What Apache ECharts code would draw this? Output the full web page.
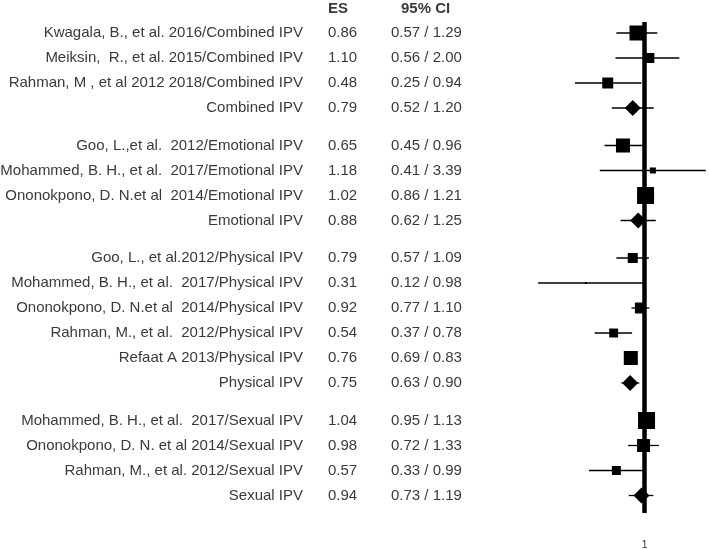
<!DOCTYPE html>
<html><head><meta charset="utf-8">
<script src="https://cdn.jsdelivr.net/npm/echarts@6/dist/echarts.min.js"></script>
<style>html,body{margin:0;padding:0;background:#fff}#c{width:709px;height:550px}</style>
</head><body><div id="c"></div>
<script>
// ---- data ----
const studyLabels = [
  'Kwagala, B., et al. 2016/Combined IPV',
  'Meiksin,  R., et al. 2015/Combined IPV',
  'Rahman, M , et al 2012 2018/Combined IPV',
  'Combined IPV',
  'Goo, L.,et al.  2012/Emotional IPV',
  'Mohammed, B. H., et al.  2017/Emotional IPV',
  'Ononokpono, D. N.et al  2014/Emotional IPV',
  'Emotional IPV',
  'Goo, L., et al.2012/Physical IPV',
  'Mohammed, B. H., et al.  2017/Physical IPV',
  'Ononokpono, D. N.et al  2014/Physical IPV',
  'Rahman, M., et al.  2012/Physical IPV',
  'Refaat A 2013/Physical IPV',
  'Physical IPV',
  'Mohammed, B. H., et al.  2017/Sexual IPV',
  'Ononokpono, D. N. et al 2014/Sexual IPV',
  'Rahman, M., et al. 2012/Sexual IPV',
  'Sexual IPV'
];
const groupIndex = [0,0,0,0, 1,1,1,1, 2,2,2,2,2,2, 3,3,3,3];
const isSummary  = [0,0,0,1, 0,0,0,1, 0,0,0,0,0,1, 0,0,0,1];
const esValues   = [0.86,1.10,0.48,0.79, 0.65,1.18,1.02,0.88, 0.79,0.31,0.92,0.54,0.76,0.75, 1.04,0.98,0.57,0.94];
const ciLower    = [0.57,0.56,0.25,0.52, 0.45,0.41,0.86,0.62, 0.57,0.12,0.77,0.37,0.69,0.63, 0.95,0.72,0.33,0.73];
const ciUpper    = [1.29,2.00,0.94,1.20, 0.96,3.39,1.21,1.25, 1.09,0.98,1.10,0.78,0.83,0.90, 1.13,1.33,0.99,1.19];
const weights    = [11.2,5.0,6.0,null, 9.8,1.8,14.4,null, 5.0,0.2,6.0,4.0,9.8,null, 14.4,8.4,4.0,null];
const headerES = 'ES';
const headerCI = '95% CI';
const refValue = 1;

// ---- layout helpers ----
const GROUP_GAP = 0.5;
const rowPos = studyLabels.map((_, i) => i + groupIndex[i] * GROUP_GAP);
const rows = studyLabels.map((l, i) => [esValues[i], rowPos[i], ciLower[i], ciUpper[i], i]);

const FONT = '"Liberation Sans", Arial, sans-serif';
const TXT = '#3a3a3a';
const FS = 15;
const LABEL_RIGHT = 303, ES_LEFT = 328, CI_LEFT = 391;

const chart = echarts.init(document.getElementById('c'), null, {renderer: 'canvas'});
chart.setOption({
  animation: false,
  grid: {left: 529, right: 0.8, top: 22, bottom: 37},
  xAxis: {
    type: 'log', logBase: 10, min: 0.1, max: 3.4,
    axisLine: {show: false}, axisTick: {show: false}, splitLine: {show: false},
    axisLabel: {
      margin: 26, color: TXT, fontFamily: FONT, fontSize: 11,
      formatter: v => (Math.abs(v - refValue) < 1e-6 ? String(refValue) : '')
    }
  },
  yAxis: {
    type: 'value', inverse: true, min: -0.44, max: 19.2,
    show: false
  },
  graphic: [
    {type: 'text', left: 328, top: 1, style: {text: headerES, font: 'bold 15px ' + FONT, fill: TXT}},
    {type: 'text', left: 401, top: 1, style: {text: headerCI, font: 'bold 15px ' + FONT, fill: TXT}}
  ],
  series: [
    {
      type: 'custom',
      clip: false,
      data: rows,
      renderItem: function (params, api) {
        const i = api.value(4);
        const c = api.coord([api.value(0), api.value(1)]);
        const lo = api.coord([api.value(2), api.value(1)]);
        const hi = api.coord([api.value(3), api.value(1)]);
        const y = c[1];
        const f = FS + 'px ' + FONT;
        const children = [
          {type: 'text', style: {text: studyLabels[i], x: LABEL_RIGHT, y: y, align: 'right', verticalAlign: 'middle', font: f, fill: TXT}},
          {type: 'text', style: {text: esValues[i].toFixed(2), x: ES_LEFT, y: y, align: 'left', verticalAlign: 'middle', font: f, fill: TXT}},
          {type: 'text', style: {text: ciLower[i].toFixed(2) + ' / ' + ciUpper[i].toFixed(2), x: CI_LEFT, y: y, align: 'left', verticalAlign: 'middle', font: f, fill: TXT}},
          {type: 'line', shape: {x1: lo[0], y1: y, x2: hi[0], y2: y}, style: {stroke: '#000', lineWidth: 1.3}}
        ];
        if (isSummary[i]) {
          const h = 8;
          children.push({type: 'polygon', shape: {points: [[c[0]-h, y], [c[0], y-h], [c[0]+h, y], [c[0], y+h]]}, style: {fill: '#000'}});
        } else {
          const s = Math.max(2, 4.48 * Math.sqrt(weights[i]));
          children.push({type: 'rect', shape: {x: c[0]-s/2, y: y-s/2, width: s, height: s}, style: {fill: '#000'}});
        }
        return {type: 'group', children: children};
      },
      markLine: {
        silent: true, symbol: 'none', label: {show: false},
        lineStyle: {color: '#000', width: 4.5, type: 'solid'},
        data: [{xAxis: refValue}]
      }
    }
  ]
});
</script></body></html>
